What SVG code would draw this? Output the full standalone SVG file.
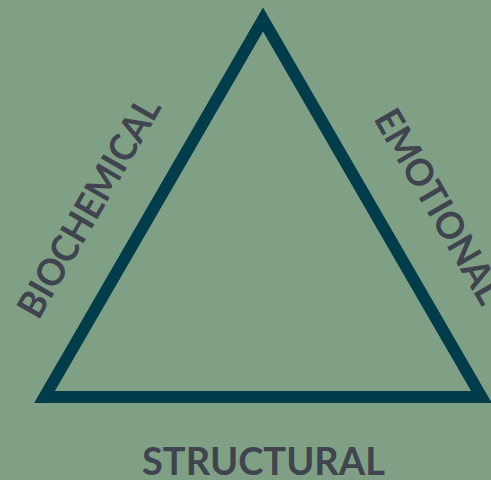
<svg xmlns="http://www.w3.org/2000/svg" width="491" height="480" viewBox="0 0 491 480">
  <style>
    .lbl { font-family: "Lato", "Liberation Sans", sans-serif; font-weight: 700; font-size: 37.5px; fill: #40444f; text-anchor: middle; }
    .tri { fill: none; stroke: #003c4a; stroke-width: 12; stroke-linejoin: miter; }
  </style>
  <rect width="491" height="480" fill="#80a086"/>
  <g id="triangle">
    <polygon class="tri" points="263,19.5 481.5,397 44.5,397"/>
  </g>
  <g id="label-biochemical">
    <text class="lbl" transform="translate(100.2,214) rotate(-60)" x="0" y="0" textLength="247" lengthAdjust="spacingAndGlyphs">BIOCHEMICAL</text>
  </g>
  <g id="label-emotional">
    <text class="lbl" transform="translate(427.4,212.8) rotate(60)" x="0" y="0" textLength="218" lengthAdjust="spacingAndGlyphs">EMOTIONAL</text>
  </g>
  <g id="label-structural">
    <text class="lbl" x="263.5" y="475" textLength="243" lengthAdjust="spacingAndGlyphs">STRUCTURAL</text>
  </g>
</svg>
